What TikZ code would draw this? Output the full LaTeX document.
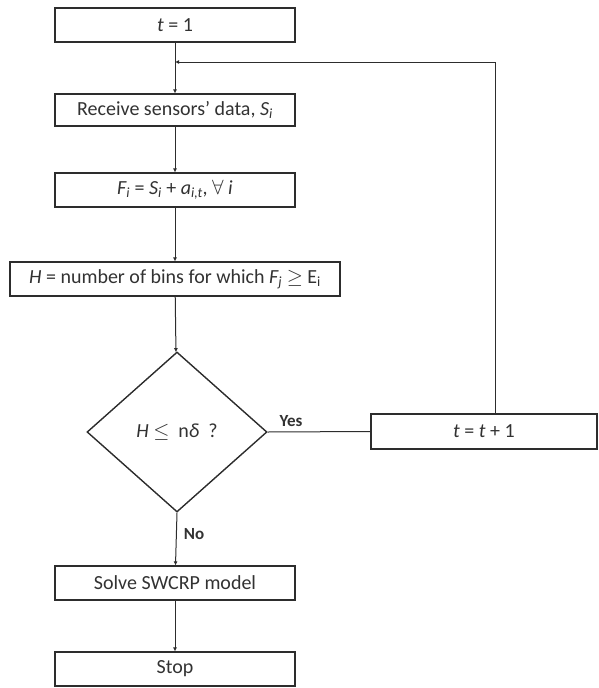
\documentclass[tikz,border=0pt]{standalone}
\usepackage{amsmath,amssymb}
\usepackage{fontspec}
\setmainfont{Carlito}
\usepackage{tikz}
\usetikzlibrary{arrows.meta,shapes.geometric}
\definecolor{boxline}{RGB}{45,45,45}
\definecolor{textgray}{RGB}{50,50,50}

\begin{document}
\begin{tikzpicture}[
      x=1pt,y=-1pt,
      box/.style={draw=boxline,line width=1.1pt,align=center,inner sep=2pt,text=textgray,
                  font=\fontsize{20}{23}\selectfont,minimum width=240pt,minimum height=34pt},
      decision/.style={draw=boxline,line width=1.4pt,diamond,aspect=1.125,inner sep=0pt,
                  text=textgray,font=\fontsize{20}{23}\selectfont,
                  minimum width=180pt,minimum height=160pt},
      tag/.style={text=textgray,font=\bfseries\fontsize{17}{19}\selectfont},
      flow/.style={draw=boxline,line width=1pt,-{Latex[length=4pt,width=4pt]}},
      link/.style={draw=boxline,line width=1pt}]

    \useasboundingbox (0,0) rectangle (599,688);

    \node[box] (t1) at (175,25) {\textit{t} = 1};
    \node[box,minimum height=32pt] (recv) at (175,110) {Receive sensors' data, \textit{S\textsubscript{i}}};
    \node[box] (fsum) at (175,190)
      {\textit{F\textsubscript{i}} = \textit{S\textsubscript{i}} + \textit{a\textsubscript{i,t}}, $\forall$ \textit{i}};
    \node[box,minimum width=330pt] (hcount) at (175,279)
      {\textit{H} = number of bins for which \textit{F\textsubscript{j}} $\geq$ E\textsubscript{i}};
    \node[decision] (check) at (177,432) {\textit{H} $\leq$ \ n\textit{δ} \ ?};
    \node[box,minimum width=226pt,minimum height=35pt] (inc) at (484,431.5) {\textit{t} = \textit{t} + 1};
    \node[box] (solve) at (175,583) {Solve SWCRP model};
    \node[box] (stop) at (175,669) {Stop};

    \node[tag] (yes) at (291,421) {Yes};
    \node[tag] (no) at (194,534) {No};

    \coordinate (turn) at (495,62);
    \coordinate (loop) at (175,62);

    \draw[flow] (t1) -- (recv);
    \draw[flow] (recv) -- (fsum);
    \draw[flow] (fsum) -- (hcount);
    \draw[flow] (hcount) -- (check);
    \draw[link] (check.east) -- (inc.west);
    \draw[flow] (turn |- inc.north) -- (turn) -- (loop);
    \draw[flow] (check.south) -- (solve);
    \draw[flow] (solve) -- (stop);
  \end{tikzpicture}
\end{document}
